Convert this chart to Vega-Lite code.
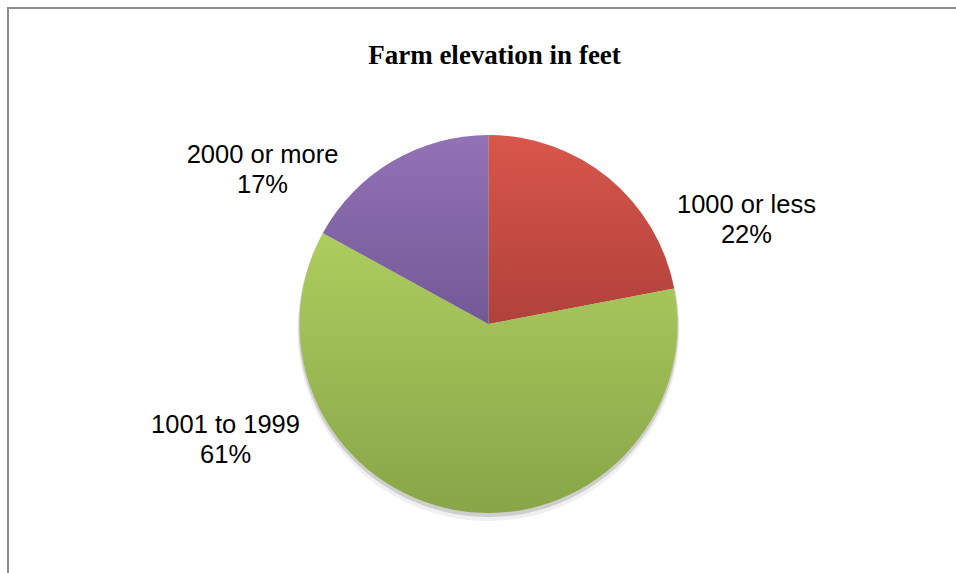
{
  "$schema": "https://vega.github.io/schema/vega-lite/v6.json",
  "width": 961,
  "height": 632,
  "autosize": {"type": "none"},
  "padding": {"left": 8, "top": 8, "right": 0, "bottom": 0},
  "background": "white",
  "view": {"stroke": "#8c8c8c", "strokeWidth": 2, "fill": "white"},
  "title": {
    "text": "Farm elevation in feet",
    "font": "Liberation Serif",
    "fontSize": 27,
    "fontWeight": "bold",
    "color": "black",
    "anchor": "middle",
    "frame": "group",
    "baseline": "alphabetic",
    "offset": -83,
    "dx": 6
  },
  "data": {
    "values": [
      {"category": "1000 or less", "value": 22},
      {"category": "1001 to 1999", "value": 61},
      {"category": "2000 or more", "value": 17}
    ]
  },
  "transform": [
    {"calculate": "datum.category + '\\n' + datum.value + '%'", "as": "label"}
  ],
  "layer": [
    {
      "mark": {"type": "arc", "radius": 191, "yOffset": 6, "fill": "#000000", "opacity": 0.06},
      "encoding": {
        "theta": {"field": "value", "type": "quantitative", "stack": true},
        "detail": {"field": "category"}
      }
    },
    {
      "mark": {"type": "arc", "radius": 190, "yOffset": 3, "fill": "#000000", "opacity": 0.14},
      "encoding": {
        "theta": {"field": "value", "type": "quantitative", "stack": true},
        "detail": {"field": "category"}
      }
    },
    {
      "mark": {"type": "arc", "radius": 189},
      "encoding": {
        "theta": {"field": "value", "type": "quantitative", "stack": true},
        "detail": {"field": "category"},
        "fill": {
          "condition": [
            {"test": "datum.category === '1000 or less'", "value": {"gradient": "linear", "x1": 0, "y1": 0, "x2": 0, "y2": 1, "stops": [{"offset": 0, "color": "#d9564b"}, {"offset": 1, "color": "#b0413a"}]}},
            {"test": "datum.category === '2000 or more'", "value": {"gradient": "linear", "x1": 0, "y1": 0, "x2": 0, "y2": 1, "stops": [{"offset": 0, "color": "#9273b6"}, {"offset": 1, "color": "#735896"}]}}
          ],
          "value": {"gradient": "linear", "x1": 0, "y1": 0, "x2": 0, "y2": 1, "stops": [{"offset": 0, "color": "#adcd5e"}, {"offset": 1, "color": "#88a548"}]}
        }
      }
    },
    {
      "mark": {"type": "text", "radius": 250, "dx": 98.6, "dy": 81.6, "align": "center", "baseline": "alphabetic", "font": "Liberation Sans", "fontSize": 25.5, "lineHeight": 30.5, "lineBreak": "\n", "color": "black"},
      "encoding": {
        "theta": {"field": "value", "type": "quantitative", "stack": true},
        "detail": {"field": "category"},
        "text": {"condition": {"test": "datum.category === '1000 or less'", "field": "label", "type": "nominal"}, "value": ""}
      }
    },
    {
      "mark": {"type": "text", "radius": 150, "dx": -239.5, "dy": -39.2, "align": "center", "baseline": "alphabetic", "font": "Liberation Sans", "fontSize": 25.5, "lineHeight": 30.5, "lineBreak": "\n", "color": "black"},
      "encoding": {
        "theta": {"field": "value", "type": "quantitative", "stack": true},
        "detail": {"field": "category"},
        "text": {"condition": {"test": "datum.category === '1001 to 1999'", "field": "label", "type": "nominal"}, "value": ""}
      }
    },
    {
      "mark": {"type": "text", "radius": 254, "dx": -96.7, "dy": 57.6, "align": "center", "baseline": "alphabetic", "font": "Liberation Sans", "fontSize": 25.5, "lineHeight": 30.5, "lineBreak": "\n", "color": "black"},
      "encoding": {
        "theta": {"field": "value", "type": "quantitative", "stack": true},
        "detail": {"field": "category"},
        "text": {"condition": {"test": "datum.category === '2000 or more'", "field": "label", "type": "nominal"}, "value": ""}
      }
    }
  ]
}
